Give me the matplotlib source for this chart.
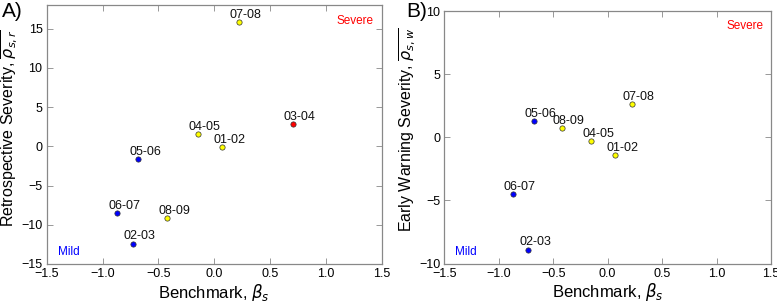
import matplotlib
matplotlib.use("Agg")
import matplotlib.pyplot as plt

plt.rcParams['font.family'] = ['Liberation Sans', 'DejaVu Sans']
plt.rcParams['mathtext.fontset'] = 'dejavusans'

seasons = ["01-02", "02-03", "03-04", "04-05", "05-06", "06-07", "07-08", "08-09"]
benchmark = [0.07, -0.73, 0.70, -0.15, -0.68, -0.87, 0.22, -0.42]
retro = [-0.1, -12.4, 2.8, 1.6, -1.6, -8.5, 15.8, -9.2]
colors = ["#ffff00", "#0000ff", "#ff0000", "#ffff00", "#0000ff", "#0000ff", "#ffff00", "#ffff00"]

seasons_b = ["01-02", "02-03", "04-05", "05-06", "06-07", "07-08", "08-09"]
benchmark_b = [0.07, -0.73, -0.15, -0.68, -0.87, 0.22, -0.42]
early = [-1.4, -8.9, -0.3, 1.25, -4.5, 2.65, 0.7]
colors_b = ["#ffff00", "#0000ff", "#ffff00", "#0000ff", "#0000ff", "#ffff00", "#ffff00"]

fig = plt.figure(figsize=(7.77, 3.01), dpi=100)
W, H = 777, 301
axA = fig.add_axes([46.7 / W, 1 - 264 / H, (382 - 46.7) / W, (264 - 5) / H])
axB = fig.add_axes([444.3 / W, 1 - 263.5 / H, (771 - 444.3) / W, (263.5 - 11) / H])

def draw(ax, xs, ys, cs, labels, ylim, yticks, ylabel, ylx, yly):
    for x, y, c, lab in zip(xs, ys, cs, labels):
        ax.plot(x, y, 'o', color=c, markersize=3.8, markeredgecolor='#333333',
                markeredgewidth=0.5, zorder=3)
        ax.annotate(lab, (x, y), xytext=(5, 3), textcoords='offset points',
                    ha='center', va='baseline', fontsize=9, color='#111111')
    ax.set_xlim(-1.5, 1.5)
    ax.set_ylim(*ylim)
    ax.set_xticks([-1.5, -1.0, -0.5, 0.0, 0.5, 1.0, 1.5])
    ax.set_xticklabels(['\u22121.5', '\u22121.0', '\u22120.5', '0.0', '0.5', '1.0', '1.5'])
    ax.set_yticks(yticks)
    ax.set_yticklabels([('\u2212' + str(-t)) if t < 0 else str(t) for t in yticks])
    ax.tick_params(direction='in', top=True, right=True, length=4, width=0.6,
                   color='#888888', labelsize=9, pad=3)
    for s in ax.spines.values():
        s.set_color('#888888')
        s.set_linewidth(0.9)
    ax.set_xlabel(r'Benchmark, $\beta_s$', fontsize=12)
    ax.xaxis.set_label_coords(0.5, -0.07)
    ax.set_ylabel(ylabel, fontsize=11.5)
    ax.yaxis.set_label_coords(ylx, yly)
    ax.text(0.92, 0.94, 'Severe', transform=ax.transAxes, color='#ff0000',
            fontsize=8.5, ha='center', va='center')
    ax.text(0.065, 0.045, 'Mild', transform=ax.transAxes, color='#0000ff',
            fontsize=8.5, ha='center', va='center')

draw(axA, benchmark, retro, colors, seasons, (-15, 18), [-15, -10, -5, 0, 5, 10, 15],
     r'Retrospective Severity, $\overline{\rho_{s,r}}$', -0.08, 0.525)
draw(axB, benchmark_b, early, colors_b, seasons_b, (-10, 10), [-10, -5, 0, 5, 10],
     r'Early Warning Severity, $\overline{\rho_{s,w}}$', -0.082, 0.529)

fig.text(0.002, 0.995, 'A)', fontsize=15, ha='left', va='top')
fig.text(406 / W, 0.995, 'B)', fontsize=15, ha='left', va='top')

fig.savefig('out.png', dpi=100)
